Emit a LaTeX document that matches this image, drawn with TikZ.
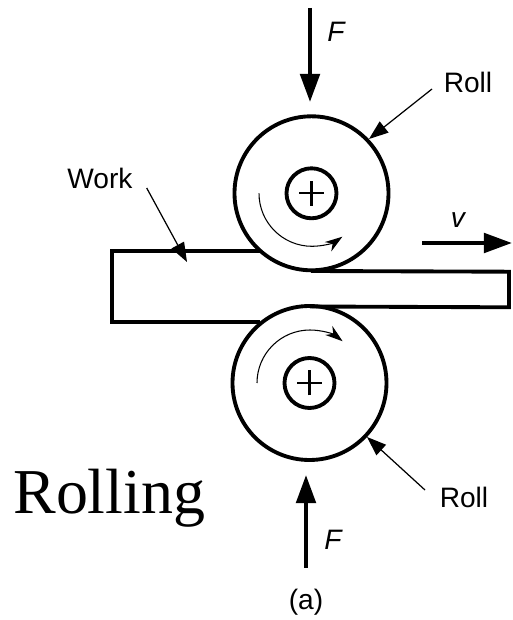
\documentclass[tikz,border=0pt]{standalone}
\usepackage{fontspec}
\setmainfont{Liberation Sans}
\newfontfamily\rollingfont{Liberation Serif}
\usetikzlibrary{arrows.meta}
\tikzset{
    % thick force and speed arrows
    forcearrow/.style={
        line width=2.4pt,
        black,
        -{Triangle[length=16pt, width=11pt]}
    },
    % thin leader arrows
    leaderarrow/.style={
        line width=0.7pt,
        black,
        -{Triangle[length=11pt, width=8pt]}
    },
    % rotation arrows inside the rolls
    spinarrow/.style={
        line width=0.6pt,
        black,
        -{Stealth[length=10pt, width=6.5pt]}
    },
    rolloutline/.style={line width=2.2pt,black},
    label/.style={black,font=\fontsize{16}{18}\selectfont}
}

\begin{document}
\begin{tikzpicture}[x=0.02cm,y=0.02cm]
	\useasboundingbox (0,0) rectangle (512,620);
	
	\path
	(311.5,426.7) coordinate (c_top)
	(309.5,237) coordinate (c_bot)
	
	(260,369.3) coordinate (w1)
	(112,369.3) coordinate (w2)
	(112,298.3) coordinate (w3)
	(260,298.3) coordinate (w4)
	(311,349) coordinate (w5)
	(509,348.3) coordinate (w6)
	(509,312.7) coordinate (w7)
	(310,313.5) coordinate (w8)
	
	(310,612) coordinate (f1_a)
	(310,518) coordinate (f1_b)
	(306,52) coordinate (f2_a)
	(306,145) coordinate (f2_b)
	(422,377) coordinate (v_a)
	(512,377) coordinate (v_b)
	
	(432,531) coordinate (r1_a)
	(369,481) coordinate (r1_b)
	(425,130) coordinate (r2_a)
	(367,183) coordinate (r2_b)
	(146.7,432) coordinate (w_a)
	(187,358) coordinate (w_b);
	
	% workpiece
	\draw[rolloutline,line join=miter] (w1) -- (w2) -- (w3) -- (w4);
	\draw[rolloutline,line join=miter] (w5) -- (w6) -- (w7) -- (w8);
	
	% rolls
	\draw[rolloutline] (c_top) circle (77);
	\draw[rolloutline] (c_top) circle (25);
	\draw[rolloutline] (c_bot) circle (77);
	\draw[rolloutline] (c_bot) circle (25);
	
	% axle marks
	\draw[line width=1.2pt] (299,426.7) -- (324,426.7) (311.5,414.2) -- (311.5,439.2);
	\draw[line width=1.2pt] (297,237) -- (322,237) (309.5,224.5) -- (309.5,249.5);
	
	% rotation
	\draw[spinarrow] (259,426.7) arc (180:305:53);
	\draw[spinarrow] (257,237) arc (180:52:53);
	
	% arrows
	\draw[forcearrow] (f1_a) -- (f1_b);
	\draw[forcearrow] (f2_a) -- (f2_b);
	\draw[forcearrow] (v_a) -- (v_b);
	\draw[leaderarrow] (r1_a) -- (r1_b);
	\draw[leaderarrow] (r2_a) -- (r2_b);
	\draw[leaderarrow] (w_a) -- (w_b);
	
	% labels
	\node[label] (f_top) at (336,588) {\itshape F};
	\node[label] (f_bot) at (333,80) {\itshape F};
	\node[label] (v_lab) at (458,400) {\itshape v};
	\node[label] (roll_top) at (468,538) {Roll};
	\node[label] (roll_bot) at (464,123) {Roll};
	\node[label] (work_lab) at (100,442) {Work};
	\node[label] (a_lab) at (306,18) {(a)};
	\node[black,anchor=base west,inner sep=0pt,font=\rollingfont\fontsize{36.4}{40}\selectfont] (title) at (13,107) {Rolling};
\end{tikzpicture}
\end{document}
